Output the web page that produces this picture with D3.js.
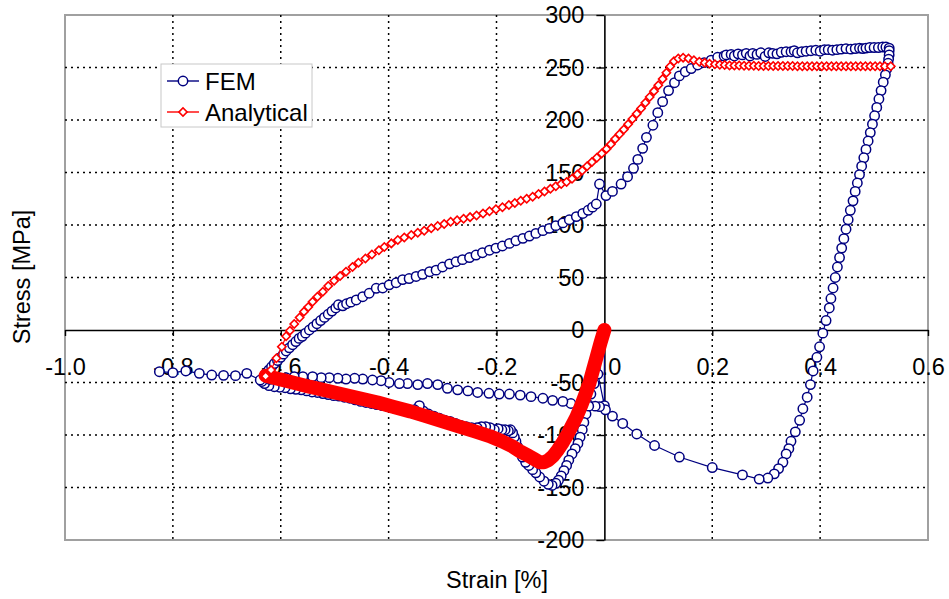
<!DOCTYPE html>
<html><head><meta charset="utf-8">
<script src="https://cdn.jsdelivr.net/npm/d3@7"></script>
<style>
body{margin:0;background:#fff;}
text{font-family:"Liberation Sans",Arial,Helvetica,sans-serif;fill:#000;}
</style></head>
<body><svg id="chart" width="949" height="599"></svg>
<script>
// ---------- data ----------
const xTicks = [-1.0,-0.8,-0.6,-0.4,-0.2,0.0,0.2,0.4,0.6];
const xTickLabels = ["-1.0","-0.8","-0.6","-0.4","-0.2","0.0","0.2","0.4","0.6"];
const yTicks = [-200,-150,-100,-50,0,50,100,150,200,250,300];
const yTickLabels = ["-200","-150","-100","-50","0","50","100","150","200","250","300"];
const seriesNames = ["FEM","Analytical"];
const xTitle = "Strain [%]";
const yTitle = "Stress [MPa]";

// FEM: first compressive loading
const femLoading = [[0,0],[0,-72],[-0.012,-42],[-0.019,-51],[-0.025,-61],[-0.030,-71],[-0.034,-80],[-0.038,-88],[-0.041,-95],[-0.045,-102],[-0.049,-108],[-0.054,-113],[-0.060,-118],[-0.066,-124],[-0.070,-129],[-0.075,-134],[-0.080,-139],[-0.085,-143],[-0.090,-146],[-0.097,-148],[-0.104,-147],[-0.112,-144],[-0.120,-140],[-0.127,-136],[-0.133,-133],[-0.140,-129],[-0.146,-126],[-0.152,-121],[-0.157,-116],[-0.161,-111],[-0.164,-106],[-0.167,-102],[-0.170,-98],[-0.174,-95],[-0.178,-96],[-0.184,-95],[-0.190,-95],[-0.197,-94],[-0.204,-95],[-0.212,-93],[-0.220,-92],[-0.228,-92],
[-0.236,-93],[-0.246,-93],[-0.256,-92],[-0.266,-91],[-0.276,-89],[-0.286,-87],[-0.296,-86],[-0.306,-84],[-0.316,-82],[-0.326,-80],[-0.336,-77],[-0.343,-72],[-0.352,-76],[-0.362,-77],[-0.372,-76],[-0.382,-75],[-0.392,-74],[-0.402,-73],[-0.412,-72],[-0.422,-71],[-0.432,-70],[-0.442,-69],[-0.452,-68],[-0.462,-66.5],[-0.472,-65],[-0.482,-64],[-0.492,-63],[-0.502,-62.5],[-0.512,-61.5],[-0.522,-60.5],[-0.532,-59.5],[-0.542,-59],[-0.552,-58],[-0.562,-57],[-0.572,-56.5],[-0.582,-56],[-0.592,-55],[-0.602,-54.5],[-0.612,-54],[-0.622,-53],[-0.630,-51],[-0.635,-49]];
// FEM: reverse (tensile) loading
const femReverse = [[-0.632,-45],[-0.627,-41],[-0.622,-38],[-0.617,-35],[-0.612,-32],[-0.606,-29],[-0.600,-26],[-0.595,-23],[-0.590,-20],[-0.584,-17],[-0.578,-14],[-0.572,-11],[-0.566,-8],[-0.560,-6],[-0.554,-3],[-0.547,0],[-0.540,3],[-0.533,6],[-0.526,9],[-0.519,12],[-0.512,15],[-0.505,18],[-0.498,21],[-0.493,24],[-0.485,23],[-0.478,25],[-0.470,26.5],[-0.460,28.6],[-0.448,31.7],[-0.436,35],[-0.423,39.7],[-0.411,40],[-0.399,43],[-0.386,45],[-0.374,48],[-0.362,49],[-0.349,51],[-0.337,53],[-0.324,55.5],[-0.312,57],[-0.300,60],[-0.287,63],[-0.275,65],[-0.263,67],[-0.250,69],[-0.238,71.4],[-0.226,73.6],[-0.213,76],[-0.201,78],[-0.189,80],[-0.176,82.5],[-0.164,85],[-0.151,87.3],[-0.139,89.5],[-0.127,92],[-0.114,94.6],[-0.102,96.8],[-0.090,99.4],[-0.077,102],[-0.065,105],[-0.052,108],[-0.040,111],[-0.030,114],[-0.022,117],[-0.015,120],[-0.009,139],[0.003,128],[0.015,132],[0.031,139],[0.043,146],[0.054,154],[0.062,162.5],[0.071,173],[0.078,183.5],[0.090,195],[0.099,207],[0.108,217.5],[0.119,228],[0.130,235.5],[0.139,242],[0.150,246],[0.161,249],[0.173,252.4],[0.185,254.6],[0.198,257],[0.210,259.7],[0.222,261]];
// FEM: upper plateau
const femPlateau = [[0.226,262],[0.235,262.5],[0.241,261],[0.248,263],[0.256,262],[0.263,263.5],[0.270,261],[0.275,263.5],[0.283,262.5],[0.290,264],[0.298,260.5],[0.305,264],[0.312,263.5],[0.320,263],[0.328,264.5],[0.337,265],[0.346,265],[0.352,266],[0.358,264],[0.366,265],[0.374,265.5],[0.383,266],[0.392,266.5],[0.400,265.5],[0.408,267],[0.415,267],[0.423,266.5],[0.431,267],[0.439,267.5],[0.448,268],[0.457,267.5],[0.465,268],[0.473,268.5],[0.479,268],[0.485,268.5],[0.492,269],[0.500,269],[0.508,269],[0.516,269.5],[0.522,269.5],[0.528,268.5]];
// FEM: unloading and final compression
const femUnloading = [[0.528,266],[0.528,262],[0.527,258],[0.526,254],[0.524,249],[0.521,243],[0.517,236],[0.513,228],[0.509,220],[0.505,212],[0.501,204],[0.497,196],[0.493,188],[0.489,180],[0.485,172],[0.481,164],[0.477,156],[0.473,148],[0.469,140],[0.465,132],[0.461,123],[0.456,114],[0.452,105],[0.448,96],[0.444,87],[0.440,78],[0.436,69],[0.432,60],[0.428,50],[0.424,40],[0.420,30],[0.417,21],[0.411,9],[0.405,-3],[0.399,-16],[0.394,-26],[0.387,-39],[0.382,-52],[0.376,-64],[0.368,-75],[0.362,-86],[0.354,-97],[0.346,-106],[0.342,-113],[0.337,-118],[0.331,-126],[0.323,-132],[0.315,-137],[0.303,-141],[0.287,-142],[0.256,-138],[0.200,-131],[0.139,-121],[0.093,-110],[0.060,-99],[0.034,-89],[0.015,-82],[0.002,-76],[-0.009,-73],[-0.017,-72.5],[-0.029,-72.5],[-0.043,-70.5],[-0.062,-70],[-0.077,-68],[-0.096,-67],[-0.114,-65],[-0.136,-63.5],[-0.156,-62],[-0.176,-61],[-0.195,-61],[-0.214,-60.3],[-0.235,-59.5],[-0.253,-58],[-0.272,-57],[-0.291,-55.5],[-0.309,-52],[-0.328,-51],[-0.346,-52],[-0.365,-51],[-0.380,-51],[-0.399,-50],[-0.414,-48.3],[-0.430,-47.6],[-0.448,-46.7],[-0.463,-46],[-0.479,-46.7],[-0.494,-46],[-0.510,-45.4],[-0.525,-45.4],[-0.541,-44.4],[-0.559,-44.4],[-0.575,-44.5],[-0.590,-45.5],[-0.605,-46],[-0.620,-47],[-0.638,-47.6],[-0.663,-41.3],[-0.684,-43.5],[-0.706,-43.2],[-0.728,-42.9],[-0.751,-41.3],[-0.776,-39],[-0.800,-40.6],[-0.825,-39.7]];

// Analytical: densely sampled compressive loading (drawn as a solid band)
const anaLoading = [[0,0],[-0.007,-12],[-0.014,-25],[-0.021,-38],[-0.028,-51],[-0.035,-61],[-0.043,-72],[-0.052,-83],[-0.060,-91],[-0.068,-99],[-0.077,-107],[-0.086,-114],[-0.095,-120],[-0.104,-124],[-0.112,-126],[-0.120,-126],[-0.130,-123],[-0.140,-120],[-0.155,-116],[-0.170,-111],[-0.190,-106],[-0.213,-101],[-0.240,-96.5],[-0.269,-92],[-0.300,-87],[-0.331,-82],[-0.360,-77.5],[-0.392,-73],[-0.420,-69],[-0.454,-65],[-0.500,-59.5],[-0.547,-54],[-0.585,-49],[-0.621,-44.5],[-0.628,-43.5]];
// Analytical: reverse loading and plateau
const anaReverse = [[-0.628,-44],[-0.618,-38],[-0.608,-27],[-0.598,-16],[-0.590,-6],[-0.583,-0.6],[-0.575,5.7],[-0.565,12],[-0.557,17.5],[-0.549,22],[-0.541,27],[-0.532,31.7],[-0.522,36.5],[-0.512,42],[-0.501,47],[-0.490,51.4],[-0.479,55.5],[-0.467,60],[-0.456,64],[-0.443,68],[-0.431,72],[-0.418,76],[-0.408,79],[-0.395,82.5],[-0.383,85.7],[-0.371,88],[-0.358,90.5],[-0.346,92.7],[-0.334,94.6],[-0.321,96.8],[-0.309,99],[-0.297,101],[-0.285,103],[-0.273,104.5],[-0.261,106],[-0.249,107.5],[-0.237,109],[-0.225,111],[-0.213,113],[-0.201,115],[-0.189,117],[-0.177,119],[-0.166,121],[-0.155,123],[-0.144,125],[-0.133,127],[-0.122,129.5],[-0.111,132],[-0.100,134.5],[-0.090,137],[-0.080,139],[-0.070,141],[-0.060,144],[-0.050,148],[-0.041,152],[-0.032,156],[-0.023,160],[-0.014,164],[-0.005,168],[0.004,172.5],[0.012,177],[0.020,182],[0.028,186.5],[0.036,191],[0.044,196],[0.052,201],[0.060,206],[0.068,211],[0.076,216.5],[0.084,222],[0.092,227.5],[0.100,233],[0.108,239],[0.115,245],[0.122,251],[0.129,256],[0.137,258.5],[0.146,259.4],[0.156,258.5],[0.166,257],[0.176,255.5],[0.186,254.5],[0.195,253.5],[0.205,253],[0.214,252.6],[0.223,252.3],[0.232,252],[0.241,251.9],[0.250,251.8],[0.259,251.7],[0.268,251.6],[0.277,251.6],[0.286,251.5],[0.295,251.5],[0.304,251.5],[0.313,251.4],[0.322,251.4],[0.331,251.4],[0.340,251.4],[0.349,251.4],[0.358,251.3],[0.367,251.3],[0.376,251.3],[0.385,251.3],[0.394,251.3],[0.403,251.3],[0.412,251.2],[0.421,251.2],[0.430,251.2],[0.439,251.2],[0.448,251.2],[0.457,251.2],[0.466,251.2],[0.475,251.2],[0.484,251.1],[0.493,251.1],[0.502,251.1],[0.511,251.1],[0.520,251.1],[0.531,251.1]];

// ---------- drawing ----------
const NAVY = "#000080", RED = "#ff0000";
const svg = d3.select("#chart");
const x = d3.scaleLinear().domain([-1,0.6]).range([65,928]);
const y = d3.scaleLinear().domain([-200,300]).range([540,15]);

// frame
svg.append("rect").attr("x",x(-1)).attr("y",y(300))
  .attr("width",x(0.6)-x(-1)).attr("height",y(-200)-y(300))
  .attr("fill","#fff").attr("stroke","#a0a0a0").attr("stroke-width",2);

// grid
const g = svg.append("g");
xTicks.filter(v=>v!==-1 && v!==0 && v!==0.6).forEach(v=>{
  g.append("line").attr("x1",x(v)).attr("x2",x(v)).attr("y1",y(300)).attr("y2",y(-200))
   .attr("stroke","#000").attr("stroke-width",1.5).attr("stroke-dasharray","2,4");
});
yTicks.filter(v=>v!==-200 && v!==0 && v!==300).forEach(v=>{
  g.append("line").attr("x1",x(-1)).attr("x2",x(0.6)).attr("y1",y(v)).attr("y2",y(v))
   .attr("stroke","#000").attr("stroke-width",1.5).attr("stroke-dasharray","2,4");
});

// axes through origin
const xAxis = d3.axisBottom(x).tickValues(xTicks).tickSize(6).tickSizeOuter(0).tickPadding(22)
  .tickFormat((d,i)=>xTickLabels[i]);
const gx = svg.append("g").attr("transform",`translate(0,${y(0)})`).call(xAxis);
gx.select(".domain").attr("stroke","#000").attr("stroke-width",1.6);
gx.selectAll(".tick line").attr("stroke","#000").attr("stroke-width",1.4);
gx.selectAll("text").style("font-size","23.5px").attr("fill","#000");

const yAxis = d3.axisLeft(y).tickValues(yTicks).tickSize(8).tickSizeOuter(0).tickPadding(12)
  .tickFormat((d,i)=>yTickLabels[i]);
const gy = svg.append("g").attr("transform",`translate(${x(0)},0)`).call(yAxis);
gy.select(".domain").attr("stroke","#000").attr("stroke-width",1.6);
gy.selectAll(".tick line").attr("stroke","#000").attr("stroke-width",1.4);
gy.selectAll("text").style("font-size","23.5px").attr("fill","#000");

// axis titles
svg.append("text").attr("x",497).attr("y",588).attr("text-anchor","middle")
  .style("font-size","23.5px").text(xTitle);
svg.append("text").attr("transform","translate(30,277) rotate(-90)").attr("text-anchor","middle")
  .style("font-size","23.5px").text(yTitle);

// FEM series
const line = d3.line().x(d=>x(d[0])).y(d=>y(d[1]));
const fem = femLoading.concat(femReverse, femPlateau, femUnloading);
svg.append("path").datum(fem).attr("d",line).attr("fill","none")
  .attr("stroke",NAVY).attr("stroke-width",1.2);
svg.append("g").selectAll("circle").data(fem.slice(1)).join("circle")
  .attr("cx",d=>x(d[0])).attr("cy",d=>y(d[1])).attr("r",4.7)
  .attr("fill","#fff").attr("stroke",NAVY).attr("stroke-width",1.5);

// Analytical series
svg.append("path").datum(anaLoading).attr("d",line).attr("fill","none")
  .attr("stroke",RED).attr("stroke-width",14).attr("stroke-linejoin","round").attr("stroke-linecap","round");
svg.append("path").datum(anaReverse).attr("d",line).attr("fill","none")
  .attr("stroke",RED).attr("stroke-width",1.2);
const diamond = d3.symbol().type(d3.symbolSquare).size(34);
svg.append("g").selectAll("path").data(anaReverse).join("path")
  .attr("d",diamond).attr("transform",d=>`translate(${x(d[0])},${y(d[1])}) rotate(45)`)
  .attr("fill","#fff").attr("stroke",RED).attr("stroke-width",1.6);

// legend
const lg = svg.append("g");
lg.append("rect").attr("x",161).attr("y",64).attr("width",151).attr("height",63)
  .attr("fill","#fff").attr("stroke","#c8c8c8").attr("stroke-width",1);
seriesNames.forEach((name,i)=>{
  const ly = 81 + i*31, col = i===0?NAVY:RED;
  lg.append("line").attr("x1",167).attr("x2",199).attr("y1",ly).attr("y2",ly)
    .attr("stroke",col).attr("stroke-width",1.4);
  if(i===0){
    lg.append("circle").attr("cx",183).attr("cy",ly).attr("r",4.7)
      .attr("fill","#fff").attr("stroke",col).attr("stroke-width",1.5);
  } else {
    lg.append("path").attr("d",diamond).attr("transform",`translate(183,${ly}) rotate(45)`)
      .attr("fill","#fff").attr("stroke",col).attr("stroke-width",1.6);
  }
  lg.append("text").attr("x",205).attr("y",ly).attr("dy","0.36em")
    .style("font-size","24px").text(name);
});
</script></body></html>
